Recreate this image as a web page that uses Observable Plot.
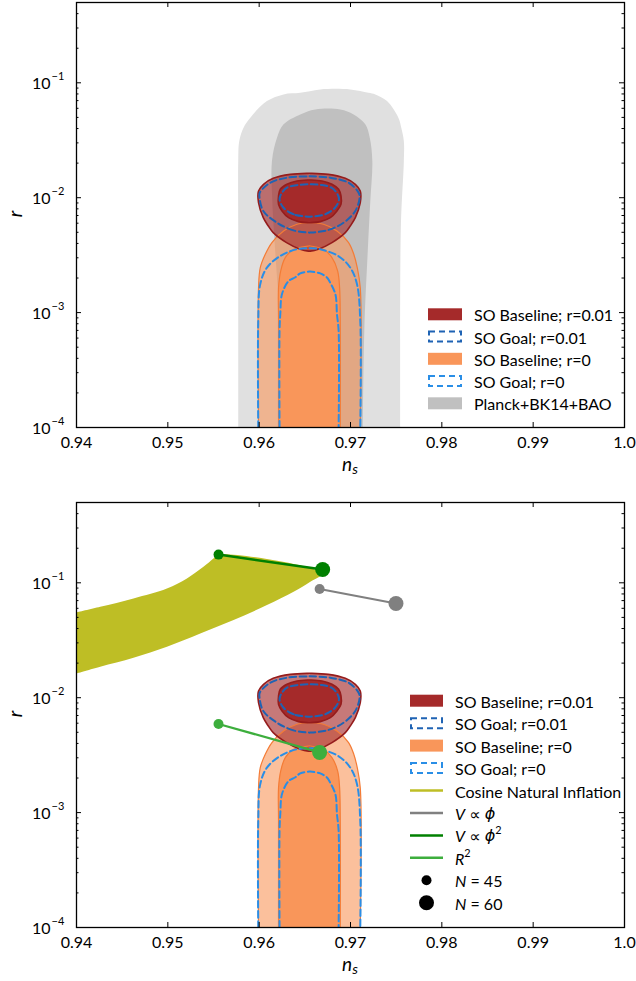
<!DOCTYPE html>
<html>
<head>
<meta charset="utf-8">
<script src="https://cdn.jsdelivr.net/npm/d3@7"></script>
<script src="https://cdn.jsdelivr.net/npm/@observablehq/plot@0.6"></script>
<style>
html,body{margin:0;padding:0;background:#fff;}
#wrap{position:relative;width:636px;height:981px;overflow:hidden;font-family:Lato,"DejaVu Sans",sans-serif;}
#p1{position:absolute;left:0;top:0;}
#p2{position:absolute;left:0;top:481px;}
#wrap svg{display:block;}
</style>
</head>
<body>
<div id="wrap"><div id="p1"></div><div id="p2"></div></div>
<script>
// ---------- axis ticks ----------
const xTickValues = [0.94, 0.95, 0.96, 0.97, 0.98, 0.99, 1.0];
const xTickLabels = ["0.94", "0.95", "0.96", "0.97", "0.98", "0.99", "1.0"];
const yMajorValues = [1e-4, 1e-3, 1e-2, 1e-1];
const yMajorExponents = ["\u22124", "\u22123", "\u22122", "\u22121"];
const yMinorMultipliers = [2, 3, 4, 5, 6, 7, 8, 9];

// ---------- SO Baseline, r = 0.01 (r levels, left ns, right ns) ----------
const baseTensorOuterR  = [0.00343, 0.00356, 0.00407, 0.00497, 0.00567, 0.00670, 0.00904, 0.01143, 0.01308, 0.01474, 0.01597, 0.01630];
const baseTensorOuterLo = [0.9654, 0.9645, 0.9630, 0.96154, 0.9610, 0.96045, 0.95993, 0.95993, 0.96048, 0.96154, 0.96341, 0.9654];
const baseTensorOuterHi = [0.9656, 0.96647, 0.96797, 0.96943, 0.96997, 0.97053, 0.97107, 0.97107, 0.97053, 0.96943, 0.96757, 0.9656];
const baseTensorInnerR  = [0.00606, 0.00619, 0.00670, 0.00767, 0.00876, 0.01035, 0.01184, 0.01308, 0.01397, 0.01425];
const baseTensorInnerLo = [0.9654, 0.96431, 0.96322, 0.9625, 0.96212, 0.96212, 0.96231, 0.96304, 0.96414, 0.9654];
const baseTensorInnerHi = [0.9656, 0.96669, 0.96779, 0.96852, 0.96896, 0.96896, 0.9687, 0.96797, 0.96688, 0.9656];

// ---------- SO Goal, r = 0.01 ----------
const goalTensorOuterR  = [0.00497, 0.00520, 0.00606, 0.00767, 0.00999, 0.01105, 0.01350, 0.01492, 0.01534];
const goalTensorOuterLo = [0.9654, 0.96374, 0.96195, 0.96045, 0.96004, 0.96006, 0.96122, 0.96304, 0.9654];
const goalTensorOuterHi = [0.9656, 0.96743, 0.96924, 0.97053, 0.971, 0.97089, 0.96979, 0.96779, 0.9656];
const goalTensorInnerR  = [0.00684, 0.00717, 0.00818, 0.00968, 0.01105, 0.01222, 0.01289, 0.01308];
const goalTensorInnerLo = [0.9654, 0.96377, 0.96267, 0.96223, 0.9625, 0.96304, 0.96424, 0.9654];
const goalTensorInnerHi = [0.9656, 0.96721, 0.9683, 0.96874, 0.96848, 0.96792, 0.96686, 0.9656];

// ---------- SO Baseline, r = 0 ----------
const baseNullOuterR  = [1e-4, 0.00164, 0.00246, 0.00322, 0.00407, 0.00513, 0.00587, 0.00606];
const baseNullOuterLo = [0.95993, 0.95993, 0.96012, 0.96067, 0.9614, 0.96267, 0.96414, 0.9654];
const baseNullOuterHi = [0.97107, 0.97107, 0.97074, 0.97036, 0.96979, 0.96852, 0.96705, 0.9656];
const baseNullInnerR  = [1e-4, 0.000846, 0.00164, 0.00231, 0.00301, 0.00356, 0.0038];
const baseNullInnerLo = [0.96212, 0.96212, 0.96212, 0.96236, 0.96286, 0.96377, 0.9654];
const baseNullInnerHi = [0.96888, 0.96888, 0.96881, 0.96859, 0.96797, 0.96705, 0.9656];

// ---------- SO Goal, r = 0 ----------
const goalNullOuterR  = [1e-4, 0.000846, 0.00177, 0.00246, 0.00311, 0.00356, 0.00363];
const goalNullOuterLo = [0.9599, 0.9599, 0.96012, 0.96085, 0.96231, 0.96414, 0.9654];
const goalNullOuterHi = [0.97107, 0.97107, 0.97071, 0.96998, 0.96866, 0.96669, 0.9656];
const goalNullInnerR  = [1e-4, 0.000693, 0.000968, 0.00145, 0.00188, 0.00202, 0.002193, 0.00228];
const goalNullInnerLo = [0.96223, 0.96223, 0.96231, 0.9625, 0.96322, 0.96392, 0.9645, 0.9655];
const goalNullInnerHi = [0.9687, 0.9687, 0.96852, 0.96834, 0.96768, 0.96743, 0.96669, 0.9656];

// ---------- Planck + BK14 + BAO ----------
const planckOuterR  = [1e-4, 0.00545, 0.0209, 0.0311, 0.0407, 0.0497, 0.0693, 0.0793, 0.0818, 0.0876];
const planckOuterLo = [0.95771, 0.95771, 0.95771, 0.95782, 0.95829, 0.95903, 0.96085, 0.96267, 0.9645, 0.96669];
const planckOuterHi = [0.97545, 0.97551, 0.97584, 0.97584, 0.97556, 0.97524, 0.974, 0.97272, 0.97195, 0.96997];
const planckInnerR  = [1e-4, 0.000693, 0.00343, 0.00936, 0.0209, 0.0332, 0.0435, 0.0531, 0.0587];
const planckInnerLo = [0.96253, 0.96231, 0.96176, 0.96144, 0.9614, 0.96195, 0.96267, 0.9645, 0.96614];
const planckInnerHi = [0.97135, 0.97151, 0.97189, 0.97217, 0.97239, 0.97211, 0.97162, 0.97034, 0.96888];

// ---------- Cosine natural inflation band ----------
const cosUpperNs = [0.94, 0.9426, 0.94624, 0.9499, 0.95209, 0.9539, 0.9550, 0.95555];
const cosUpperR  = [0.0552, 0.0618, 0.0731, 0.0892, 0.109, 0.1377, 0.1627, 0.176];
const cosLowerNs = [0.94, 0.9426, 0.94624, 0.9499, 0.95355, 0.9572, 0.96085, 0.96377, 0.9656, 0.96688];
const cosLowerR  = [0.01627, 0.01861, 0.02228, 0.02777, 0.03623, 0.04737, 0.0640, 0.0835, 0.102, 0.1204];

// ---------- model predictions (N = 45, N = 60) ----------
const efolds = [45, 60];
const phiNs  = [0.96662, 0.97498];
const phiR   = [0.0882, 0.0661];
const phi2Ns = [0.95555, 0.96695];
const phi2R  = [0.176, 0.1305];
const r2Ns   = [0.95555, 0.96662];
const r2R    = [0.00591, 0.00334];

// ---------- colours ----------
const colRed = "#a52a2a", colRedEdge = "#951c1c";
const colOrange = "#f9965a", colOrangeEdge = "#f47c36";
const colGoalT = "#1f63b4", colGoalN = "#2a8ee6";
const colPlanckOuter = "#e0e0e0", colPlanckInner = "#c0c0c0";
const colCos = "#bebe25", colPhi = "#808080", colPhi2 = "#008000", colR2 = "#3dae3d";

// ---------- helpers ----------
function ring(r, lo, hi) {
  const a = [];
  r.forEach((v, i) => a.push({x: lo[i], y: v}));
  for (let i = r.length - 1; i >= 0; i--) a.push({x: hi[i], y: r[i]});
  return a;
}
function pts(xs, ys) { return xs.map((x, i) => ({x, y: ys[i]})); }

const XD = [0.94, 1.0], YD = [1e-4, 0.5];
const plotW = 636 - 76 - 12, plotH = 425;
const xPerPx = (XD[1] - XD[0]) / plotW;
const decPerPx = Math.log10(YD[1] / YD[0]) / plotH;
const fMaj = Math.pow(10, 5 * decPerPx), fMin = Math.pow(10, 2.5 * decPerPx);

function shape(data, closed, opts) {
  return Plot.line(data, {x: "x", y: "y", curve: closed ? "catmull-rom-closed" : "catmull-rom", clip: true, ...opts});
}

function planckMarks() {
  return [
    shape(ring(planckOuterR, planckOuterLo, planckOuterHi), false, {fill: colPlanckOuter, stroke: "none"}),
    shape(ring(planckInnerR, planckInnerLo, planckInnerHi), false, {fill: colPlanckInner, stroke: "none"})
  ];
}

function soMarks() {
  const bNo = ring(baseNullOuterR, baseNullOuterLo, baseNullOuterHi);
  const bNi = ring(baseNullInnerR, baseNullInnerLo, baseNullInnerHi);
  const bTo = ring(baseTensorOuterR, baseTensorOuterLo, baseTensorOuterHi);
  const bTi = ring(baseTensorInnerR, baseTensorInnerLo, baseTensorInnerHi);
  const gTo = ring(goalTensorOuterR, goalTensorOuterLo, goalTensorOuterHi);
  const gTi = ring(goalTensorInnerR, goalTensorInnerLo, goalTensorInnerHi);
  const gNo = ring(goalNullOuterR, goalNullOuterLo, goalNullOuterHi);
  const gNi = ring(goalNullInnerR, goalNullInnerLo, goalNullInnerHi);
  const dash = {strokeWidth: 2, strokeDasharray: "6.5,3.5", fill: "none"};
  return [
    shape(bNo, false, {fill: colOrange, fillOpacity: 0.6, stroke: "none"}),
    shape(bNi, false, {fill: colOrange, stroke: "none"}),
    shape(bTo, true, {fill: colRed, fillOpacity: 0.63, stroke: "none"}),
    shape(bTi, true, {fill: colRed, stroke: "none"}),
    shape(bNo, false, {stroke: colOrangeEdge, strokeWidth: 1.2, fill: "none"}),
    shape(bNi, false, {stroke: colOrangeEdge, strokeWidth: 1.2, fill: "none"}),
    shape(bTo, true, {stroke: colRedEdge, strokeWidth: 1.6, fill: "none"}),
    shape(bTi, true, {stroke: colRedEdge, strokeWidth: 1.6, fill: "none"}),
    shape(gTo, true, {stroke: colGoalT, ...dash}),
    shape(gTi, true, {stroke: colGoalT, ...dash}),
    shape(gNo, false, {stroke: colGoalN, ...dash}),
    shape(gNi, false, {stroke: colGoalN, ...dash})
  ];
}

function modelMarks() {
  const cos = pts(cosUpperNs, cosUpperR).concat(pts(cosLowerNs, cosLowerR).reverse());
  const phi = efolds.map((N, i) => ({N, x: phiNs[i], y: phiR[i]}));
  const phi2 = efolds.map((N, i) => ({N, x: phi2Ns[i], y: phi2R[i]}));
  const r2 = efolds.map((N, i) => ({N, x: r2Ns[i], y: r2R[i]}));
  const out = [
    Plot.line(cos, {x: "x", y: "y", curve: "catmull-rom", fill: colCos, stroke: "none", clip: true})
  ];
  for (const [d, c, w] of [[phi, colPhi, 2], [phi2, colPhi2, 2.5], [r2, colR2, 2.2]]) {
    out.push(Plot.line(d, {x: "x", y: "y", stroke: c, strokeWidth: w}));
    out.push(Plot.dot(d.filter(e => e.N === 45), {x: "x", y: "y", r: 5, fill: c}));
    out.push(Plot.dot(d.filter(e => e.N === 60), {x: "x", y: "y", r: 7.5, fill: c}));
  }
  return out;
}

function axisMarks() {
  const yMinor = [];
  for (const d of [1e-4, 1e-3, 1e-2, 1e-1]) for (const m of yMinorMultipliers) if (d * m < YD[1]) yMinor.push(d * m);
  const xt = xTickValues.map((v, i) => ({v, label: xTickLabels[i]}));
  const yt = yMajorValues.map((v, i) => ({v, e: yMajorExponents[i]}));
  const tk = {stroke: "black", strokeWidth: 1};
  return [
    Plot.ruleX(xTickValues, {x: d => d, y1: YD[0], y2: YD[0] * fMaj, ...tk}),
    Plot.ruleX(xTickValues, {x: d => d, y1: YD[1] / fMaj, y2: YD[1], ...tk}),
    Plot.ruleY(yMajorValues, {y: d => d, x1: XD[0], x2: XD[0] + 5 * xPerPx, ...tk}),
    Plot.ruleY(yMajorValues, {y: d => d, x1: XD[1] - 5 * xPerPx, x2: XD[1], ...tk}),
    Plot.ruleY(yMinor, {y: d => d, x1: XD[0], x2: XD[0] + 2.5 * xPerPx, ...tk}),
    Plot.ruleY(yMinor, {y: d => d, x1: XD[1] - 2.5 * xPerPx, x2: XD[1], ...tk}),
    Plot.frame({stroke: "black", strokeWidth: 1.3}),
    Plot.text(xt, {x: "v", y: YD[0], text: "label", dy: 15, fontSize: 16, fill: "black"}),
    Plot.text(yt, {x: XD[0], y: "v", text: () => "10", textAnchor: "end", dx: -26, dy: 1, fontSize: 16, fill: "black"}),
    Plot.text(yt, {x: XD[0], y: "v", text: "e", textAnchor: "start", dx: -25, dy: -6, fontSize: 11, fill: "black"})
  ];
}

function panel(height, marginTop, before, after) {
  return Plot.plot({
    width: 636, height, marginLeft: 76, marginRight: 12, marginTop, marginBottom: 54,
    style: {background: "white", fontFamily: "Lato, 'DejaVu Sans', sans-serif", overflow: "visible"},
    x: {domain: XD, axis: null},
    y: {type: "log", domain: YD, axis: null},
    marks: [...before, ...soMarks(), ...after, ...axisMarks()]
  });
}

document.getElementById("p1").appendChild(panel(481, 2, planckMarks(), []));
document.getElementById("p2").appendChild(panel(500, 21, [], modelMarks()));

// ---------- overlay: axis titles and legends ----------
const ov = d3.select("#wrap").append("svg")
  .attr("width", 636).attr("height", 981)
  .style("position", "absolute").style("left", "0px").style("top", "0px")
  .style("font-family", "Lato, 'DejaVu Sans', sans-serif");

function label(x, y, parts, size, anchor) {
  const t = ov.append("text").attr("x", x).attr("y", y).attr("font-size", size)
    .attr("dominant-baseline", "central").attr("fill", "#000").attr("text-anchor", anchor || "start");
  for (const p of parts) {
    const s = t.append("tspan").text(p.t);
    if (p.i) s.attr("font-style", "italic");
    if (p.f) s.attr("font-family", p.f);
    if (p.sup) s.attr("font-size", size * 0.68).attr("dy", -6);
    if (p.sub) s.attr("font-size", size * 0.75).attr("dy", 5);
  }
  return t;
}

// axis titles
for (const off of [0, 500]) {
  label(350, 463 + off, [{t: "n", i: true}, {t: "s", i: true, sub: true}], 19, "middle");
  ov.append("text").attr("transform", `translate(14,${214 + off}) rotate(-90)`)
    .attr("text-anchor", "middle").attr("dominant-baseline", "central")
    .attr("font-size", 19).attr("font-style", "italic").text("r");
}

const legendSO = [
  {kind: "patch", color: colRed, parts: [{t: "SO Baseline; r=0.01"}]},
  {kind: "dash", color: colGoalT, parts: [{t: "SO Goal; r=0.01"}]},
  {kind: "patch", color: colOrange, parts: [{t: "SO Baseline; r=0"}]},
  {kind: "dash", color: colGoalN, parts: [{t: "SO Goal; r=0"}]}
];
const legendTop = legendSO.concat([{kind: "patch", color: colPlanckInner, parts: [{t: "Planck+BK14+BAO"}]}]);
const legendBottom = legendSO.concat([
  {kind: "line", color: colCos, parts: [{t: "Cosine Natural Inflation"}]},
  {kind: "line", color: colPhi, parts: [{t: "V", i: true}, {t: " \u221D "}, {t: "\u03D5", i: true, f: "'DejaVu Sans'"}]},
  {kind: "line", color: colPhi2, parts: [{t: "V", i: true}, {t: " \u221D "}, {t: "\u03D5", i: true, f: "'DejaVu Sans'"}, {t: "2", sup: true}]},
  {kind: "line", color: colR2, parts: [{t: "R", i: true}, {t: "2", sup: true}]},
  {kind: "dot", r: 5, parts: [{t: "N", i: true}, {t: " = 45"}]},
  {kind: "dot", r: 7.5, parts: [{t: "N", i: true}, {t: " = 60"}]}
]);

function legend(items, x0, y0, step, w) {
  items.forEach((it, k) => {
    const cy = y0 + k * step;
    if (it.kind === "patch") ov.append("rect").attr("x", x0).attr("y", cy - 6).attr("width", w).attr("height", 12).attr("fill", it.color);
    if (it.kind === "dash") ov.append("rect").attr("x", x0 + 1).attr("y", cy - 5).attr("width", w - 2).attr("height", 10)
      .attr("fill", "none").attr("stroke", it.color).attr("stroke-width", 2).attr("stroke-dasharray", "6,4");
    if (it.kind === "line") ov.append("line").attr("x1", x0).attr("x2", x0 + w).attr("y1", cy).attr("y2", cy)
      .attr("stroke", it.color).attr("stroke-width", 2.5);
    if (it.kind === "dot") ov.append("circle").attr("cx", x0 + w / 2).attr("cy", cy).attr("r", it.r).attr("fill", "#000");
    label(x0 + w + 12, cy, it.parts, 16);
  });
}
legend(legendTop, 428, 314.3, 22.25, 34);
legend(legendBottom, 410, 700.7, 22.45, 33);
</script>
</body>
</html>
